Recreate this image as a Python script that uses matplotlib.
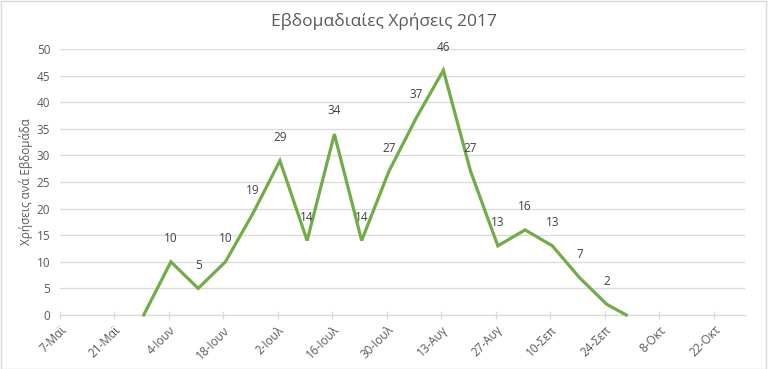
import datetime as dt
import matplotlib
matplotlib.use("Agg")
import matplotlib.pyplot as plt
import matplotlib.dates as mdates
from matplotlib.patches import Rectangle

plt.rcParams['font.family'] = ['Open Sans', 'DejaVu Sans']

# weekly usage counts
week_dates = [dt.date(2017, 5, 28), dt.date(2017, 6, 4), dt.date(2017, 6, 11),
              dt.date(2017, 6, 18), dt.date(2017, 6, 25), dt.date(2017, 7, 2),
              dt.date(2017, 7, 9), dt.date(2017, 7, 16), dt.date(2017, 7, 23),
              dt.date(2017, 7, 30), dt.date(2017, 8, 6), dt.date(2017, 8, 13),
              dt.date(2017, 8, 20), dt.date(2017, 8, 27), dt.date(2017, 9, 3),
              dt.date(2017, 9, 10), dt.date(2017, 9, 17), dt.date(2017, 9, 24),
              dt.date(2017, 9, 29)]
uses = [0, 10, 5, 10, 19, 29, 14, 34, 14, 27, 37, 46, 27, 13, 16, 13, 7, 2, 0]

tick_dates = [dt.date(2017, 5, 7) + dt.timedelta(days=14 * i) for i in range(13)]
tick_labels = ["7-Μαϊ", "21-Μαϊ", "4-Ιουν", "18-Ιουν", "2-Ιουλ", "16-Ιουλ",
               "30-Ιουλ", "13-Αυγ", "27-Αυγ", "10-Σεπ", "24-Σεπ", "8-Οκτ", "22-Οκτ"]

title = "Εβδομαδιαίες Χρήσεις 2017"
ylabel = "Χρήσεις ανά Εβδομάδα"

green = "#70AD47"
grey_txt = "#595959"
grid_c = "#D9D9D9"

fig = plt.figure(figsize=(7.68, 3.69), dpi=100, facecolor='w')
ax = fig.add_axes([60 / 768, 1 - 315 / 369, 685 / 768, 266 / 369])

x = mdates.date2num(week_dates) + 0.5
ax.plot(x, uses, color=green, lw=2.3, solid_joinstyle='miter', zorder=3, clip_on=False)

for xi, v in zip(x, uses):
    if v == 0:
        continue
    ax.annotate(str(v), (xi, v), xytext=(0, 12), textcoords='offset points',
                ha='center', va='bottom', fontsize=8.5, color="#404040")

ax.set_ylim(0, 50)
ax.set_yticks(range(0, 51, 5))
ax.set_xlim(mdates.date2num(dt.date(2017, 5, 7)), mdates.date2num(dt.date(2017, 10, 30)))
ax.set_xticks(mdates.date2num(tick_dates))
ax.set_xticklabels(tick_labels, rotation=45, ha='right', rotation_mode='anchor')

ax.grid(axis='y', color=grid_c, lw=0.9)
ax.set_axisbelow(True)
for side in ['top', 'right', 'left']:
    ax.spines[side].set_visible(False)
ax.spines['bottom'].set_color(grid_c)
ax.spines['bottom'].set_linewidth(0.9)
ax.tick_params(axis='y', length=0, labelsize=8.5, labelcolor=grey_txt, pad=7)
ax.tick_params(axis='x', direction='inout', length=6, color=grid_c, width=0.9,
               labelsize=8.5, labelcolor=grey_txt, pad=3)

ax.set_ylabel(ylabel, fontsize=8.5, color=grey_txt, va='center')
ax.yaxis.set_label_coords((26 - 60) / 685, 0.5)
fig.text(0.5, 1 - 22 / 369, title, ha='center', va='center', fontsize=12.5, color=grey_txt)

fig.patches.append(Rectangle((0.001, 0.001), 0.997, 0.997, transform=fig.transFigure,
                             fill=False, edgecolor=grid_c, lw=1))

fig.savefig("out.png", dpi=100, facecolor='w')
